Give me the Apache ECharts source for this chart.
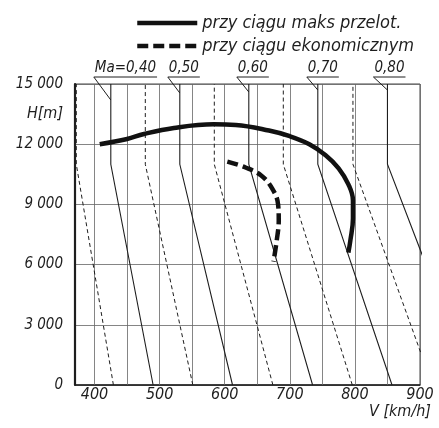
<!DOCTYPE html>
<html>
<head>
<meta charset="UTF-8">
<title>Wykres</title>
<script src="https://cdn.jsdelivr.net/npm/echarts@6.0.0/dist/echarts.min.js"></script>
<style>
	html, body { margin: 0; padding: 0; background: #fff; }
	#main { width: 439px; height: 428px; }
</style>
</head>
<body>
<div id="main"></div>
<script>
// wartości
var yTicks = [0, 3000, 6000, 9000, 12000, 15000];
var yTickLabels = ['0', '3 000', '6 000', '9 000', '12 000', '15 000'];
var xTicks = [400, 500, 600, 700, 800, 900];
var xGrid = [400, 450, 500, 550, 600, 650, 700, 750, 800, 850, 900];

// linie stałej liczby Macha: V przy ziemi i V powyżej 11 000 m
var machLabels = ['Ma=0,40', '0,50', '0,60', '0,70', '0,80'];
var machSolidSea = [490, 612, 735, 857, 980];
var machSolidTop = [425, 531, 637, 743, 850];
var machDashedSea = [429, 551, 674, 796, 919];
var machDashedTop = [372, 478, 584, 690, 797];
var tropoH = 11000;

// przy ciągu maks przelot.
var maxV = [408, 450, 476, 522, 583, 617, 668, 700, 730, 755, 775, 790, 797, 797, 793, 790];
var maxH = [12000, 12260, 12510, 12810, 12990, 12960, 12680, 12400, 12000, 11450, 10800, 10000, 9200, 8300, 7200, 6600];
// przy ciągu ekonomicznym
var ecoV = [604, 632, 656, 673, 682, 683, 680, 675];
var ecoH = [11130, 10840, 10440, 9790, 9000, 8200, 7230, 6150];

var font = "'Liberation Sans Narrow', 'DejaVu Sans Condensed', 'Liberation Sans', sans-serif";
var ink = '#1e1e1e';
// odsunięcie początku odnośnika od linii Macha i jego spadek (px)
var leaderShift = [17, 12, 12, 11, 14];
var leaderDrop = [16, 9, 8, 6, 6];

function machCoords(sea, top) {
	return sea.map(function(s, i) {
		return { coords: [[s, 0], [top[i], tropoH], [top[i], 15000]] };
	});
}

var myChart = echarts.init(document.getElementById('main'));

var option = {
	backgroundColor: '#fff',
	animation: false,
	grid: {
		left: 75, right: 19, top: 84, bottom: 43,
		show: true, borderColor: '#444', borderWidth: 1
	},
	legend: {
		orient: 'vertical',
		left: 130, top: 9,
		itemWidth: 60, itemHeight: 14, itemGap: 5,
		lineStyle: { width: 4.5 },
		itemStyle: { opacity: 0 },
		textStyle: { fontFamily: font, fontStyle: 'italic', fontSize: 18, color: ink },
		data: ['przy ciągu maks przelot.', 'przy ciągu ekonomicznym']
	},
	xAxis: {
		type: 'value', min: 370, max: 900,
		splitLine: { show: false },
		axisTick: { show: false },
		axisLine: { lineStyle: { color: ink, width: 1.5 } },
		axisLabel: {
			customValues: xTicks,
			margin: 2,
			fontFamily: font, fontStyle: 'italic', fontSize: 16, color: ink
		}
	},
	yAxis: {
		type: 'value', min: 0, max: 15000, interval: 3000,
		axisTick: { show: false },
		axisLine: { show: true, lineStyle: { color: ink, width: 2.2 } },
		splitLine: { lineStyle: { color: '#666', width: 0.8 } },
		axisLabel: {
			margin: 12,
			fontFamily: font, fontStyle: 'italic', fontSize: 15, color: ink,
			formatter: function(v) { return yTickLabels[yTicks.indexOf(v)]; }
		}
	},
	series: [
		{
			type: 'lines', coordinateSystem: 'cartesian2d', silent: true, z: 1,
			lineStyle: { color: '#666', width: 0.8, opacity: 1 },
			data: xGrid.map(function(v) { return { coords: [[v, 0], [v, 15000]] }; })
		},
		{
			type: 'lines', coordinateSystem: 'cartesian2d', polyline: true, silent: true, clip: true, z: 2,
			lineStyle: { color: ink, width: 1.1, opacity: 1 },
			data: machCoords(machSolidSea, machSolidTop)
		},
		{
			type: 'lines', coordinateSystem: 'cartesian2d', polyline: true, silent: true, clip: true, z: 2,
			lineStyle: { color: ink, width: 1, type: [4, 3], opacity: 1 },
			data: machCoords(machDashedSea, machDashedTop)
		},
		{
			name: 'przy ciągu maks przelot.',
			type: 'line', smooth: 0.4, symbol: 'none', z: 5,
			lineStyle: { color: '#111', width: 4.5 },
			itemStyle: { color: '#111' },
			data: maxV.map(function(v, i) { return [v, maxH[i]]; })
		},
		{
			name: 'przy ciągu ekonomicznym',
			type: 'line', smooth: 0.4, symbol: 'none', z: 5,
			lineStyle: { color: '#111', width: 4.5, type: [11, 5] },
			itemStyle: { color: '#111' },
			data: ecoV.map(function(v, i) { return [v, ecoH[i]]; })
		}
	]
};
myChart.setOption(option);

// opisy liczby Macha (podkreślone, z odnośnikiem) i opisy osi
var ctx = document.createElement('canvas').getContext('2d');
var labelFont = 'italic 15px ' + font;
ctx.font = labelFont;
var graphics = [];
machSolidTop.forEach(function(t, i) {
	var p = myChart.convertToPixel({ gridIndex: 0 }, [t, 15000]);
	var x0 = p[0] - leaderShift[i], y0 = p[1] - 7;
	var w = ctx.measureText(machLabels[i]).width;
	graphics.push({
		type: 'polyline', silent: true,
		shape: { points: [[x0 + w + 2, y0], [x0, y0], [p[0], p[1] + leaderDrop[i]]] },
		style: { stroke: ink, lineWidth: 1, fill: null }
	});
	graphics.push({
		type: 'text', x: x0 + 1, y: y0 - 1, silent: true,
		style: { text: machLabels[i], font: labelFont, fill: ink, align: 'left', verticalAlign: 'bottom' }
	});
});
graphics.push({
	type: 'text', x: 63, y: 114, silent: true,
	style: { text: 'H[m]', font: 'italic 16px ' + font, fill: ink, align: 'right', verticalAlign: 'middle' }
});
graphics.push({
	type: 'text', x: 369, y: 412, silent: true,
	style: { text: 'V [km/h]', font: 'italic 16px ' + font, fill: ink, align: 'left', verticalAlign: 'middle' }
});
myChart.setOption({ graphic: graphics });
</script>
</body>
</html>
